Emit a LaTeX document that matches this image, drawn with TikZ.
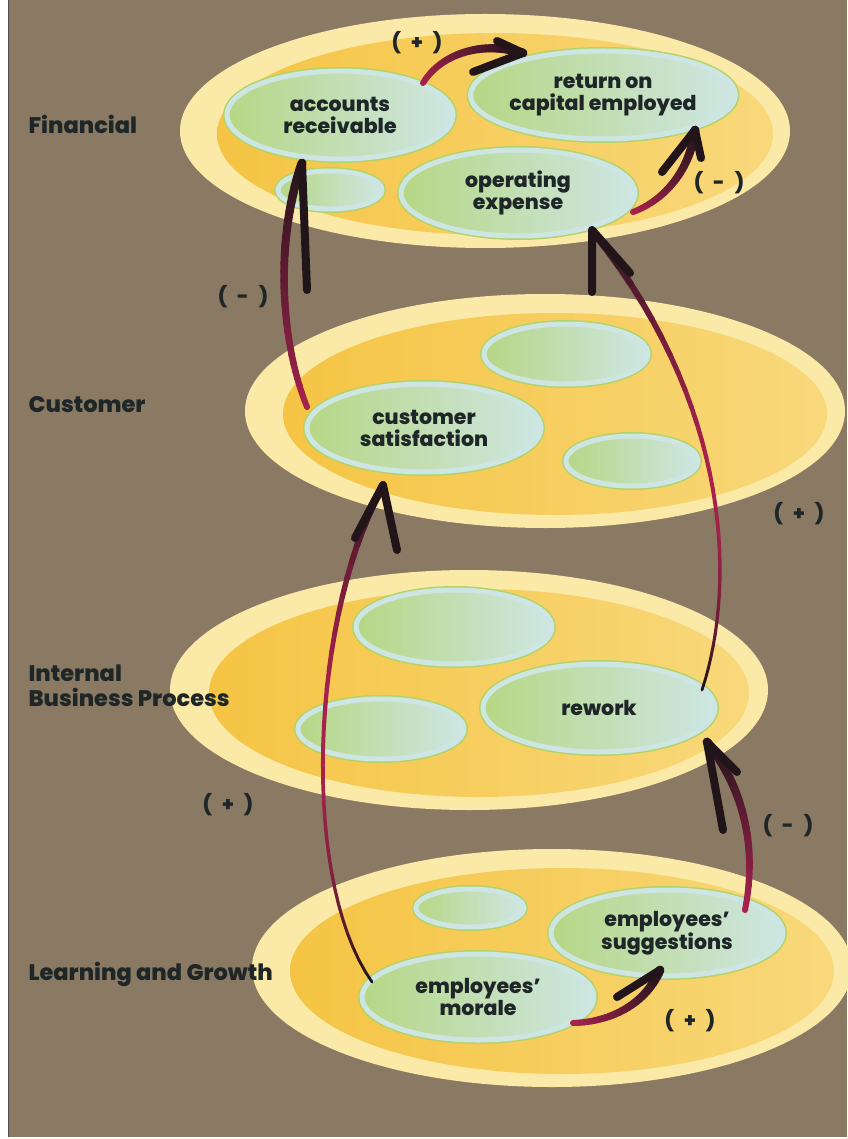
\documentclass[tikz,border=0pt]{standalone}
\usepackage{fontspec}
\setmainfont{Poppins}[BoldFont={* ExtraBold}]
\usetikzlibrary{shapes.geometric,calc}

\definecolor{bgbrown}{HTML}{8A7A64}
\definecolor{cream}{HTML}{FBE9A8}
\definecolor{golden}{HTML}{F5C444}
\definecolor{iceblue}{HTML}{CEE6E3}
\definecolor{leafgreen}{HTML}{B6D785}
\definecolor{rimgreen}{HTML}{B2D36A}
\definecolor{ink}{HTML}{1E2628}
\definecolor{linkred}{HTML}{A8224E}
\definecolor{linkdark}{HTML}{22151A}

% shaded shaft: #1 red share, #2 width (both of \tpos), #3 start, #4 #5 controls, #6 end
\newcommand\shadedlink[6]{%
  \foreach \k [evaluate=\k as \tpos using \k/30] in {0,...,30}
    \path #3 .. controls #4 and #5 .. #6 coordinate[pos=\tpos] (lk\k);
  \foreach \k [evaluate=\k as \tpos using \k/30,
               evaluate=\k as \p using int(#1),
               evaluate=\k as \w using #2,
               evaluate=\k as \j using int(\k+1)] in {0,...,29}
    \draw [linkpart, draw=linkred!\p!linkdark, line width=\w pt] (lk\k) -- (lk\j);
}
% golden inside of a tier
\newcommand\tierglow[3]{%
  \shade [left color=golden, right color=golden!45!cream] ($(#1.center)+(10,3)$) ellipse [x radius=#2, y radius=#3];
}

\begin{document}
\begin{tikzpicture}[
    x=1pt, y=-1pt,
    tier/.style={
		ellipse,
		fill=cream,
		inner sep=0pt
	},
	cell/.style={
		ellipse,
		preaction={draw=rimgreen, line width=8pt},
		draw=iceblue,
		line width=5pt,
		left color=leafgreen,
		right color=iceblue,
		inner sep=0pt,
		align=center,
		text=ink,
		font=\fontsize{20.5}{22}\selectfont\bfseries
	},
	layerlabel/.style={
		anchor=base west,
		align=left,
		text=ink,
		font=\fontsize{22.5}{25}\selectfont\bfseries
	},
	sign/.style={
		text=ink,
		font=\fontsize{20}{20}\selectfont\bfseries
	},
	linkpart/.style={
		line cap=round
	},
	barb/.style={
		draw=linkdark,
		line width=8pt,
		line cap=round
	}
  ]

\useasboundingbox (0,0) rectangle (847,1139);
\fill [white] (0,0) rectangle (847,1139);
\fill [bgbrown] (9,0) rectangle (847,1137);
\draw [black!70, line width=1pt] (8.5,0) -- (8.5,1137);

% // The four tiers
\node [tier, minimum width=610, minimum height=234] (fin) at (485,131) {};
\tierglow{fin}{278}{101}
\node [tier, minimum width=600, minimum height=234] (cus) at (545,411) {};
\tierglow{cus}{272}{101}
\node [tier, minimum width=598, minimum height=240] (ibp) at (469,690) {};
\tierglow{ibp}{270}{104}
\node [tier, minimum width=600, minimum height=238] (lag) at (552,968) {};
\tierglow{lag}{272}{103}

\node [layerlabel] (finlab) at (25,134) {Financial};
\node [layerlabel] (cuslab) at (25,412) {Customer};
\node [layerlabel, anchor=west] (ibplab) at (25,686) {Internal\\Business Process};
\node [layerlabel] (laglab) at (25,980) {Learning and Growth};

% // Financial
\node [cell, minimum width=104, minimum height=38] (finx) at (330,190) {};
\node [cell, minimum width=226, minimum height=88] (acr) at (340,115) {accounts\\receivable};
\node [cell, minimum width=232, minimum height=88] (ret) at (603,95) {return on\\capital employed};
\node [cell, minimum width=234, minimum height=86] (op) at (518,193) {operating\\expense};

% // Customer
\node [cell, minimum width=234, minimum height=88] (sat) at (424,428) {customer\\satisfaction};
\node [cell, minimum width=164, minimum height=60] (cusa) at (566,354) {};
\node [cell, minimum width=132, minimum height=50] (cusb) at (632,461) {};

% // Internal business process
\node [cell, minimum width=196, minimum height=74] (ibpa) at (454,627) {};
\node [cell, minimum width=166, minimum height=60] (ibpb) at (381,729) {};
\node [cell, minimum width=232, minimum height=88] (rew) at (599,708) {rework};

% // Learning and growth
\node [cell, minimum width=108, minimum height=38] (lagx) at (470,908) {};
\node [cell, minimum width=232, minimum height=86] (sug) at (667,933) {employees’\\suggestions};
\node [cell, minimum width=232, minimum height=86] (mor) at (478,997) {employees’\\morale};

% // The links
\shadedlink{100*(1-\tpos)}{6+3*\tpos}{($(acr.center)+(83,-32)$)}{(440,55)}{(480,40)}{($(ret.center)+(-80,-42)$)}
\draw [barb] (lk30) -- ++(-26,-12) (lk30) -- ++(-50,19);

\shadedlink{100*(1-\tpos)}{6+3*\tpos}{($(op.center)+(115,19)$)}{(665,200)}{(690,170)}{($(ret.center)+(92,35)$)}
\draw [barb] (lk30) -- ++(-33,42) (lk30) -- ++(6,28);

\shadedlink{100*(1-\tpos)}{6+3*\tpos}{($(sat.center)+(-117,-21)$)}{(280,340)}{(275,240)}{($(acr.center)+(-38,48)$)}
\draw [barb] (lk30) -- ++(5,127);

\shadedlink{100*sin(180*\tpos)}{2.8+2*\tpos+3*\tpos^4}{($(mor.center)+(-106,-15)$)}{(300,880)}{(310,620)}{($(sat.center)+(-41,57)$)}
\draw [barb] (lk30) -- ++(-28,53) (lk30) -- ++(14,65);

\shadedlink{100*sin(180*\tpos)}{2.8+2*\tpos+3*\tpos^4}{($(rew.center)+(103,-18)$)}{(735,590)}{(735,410)}{($(op.center)+(74,37)$)}
\draw [barb] (lk30) -- ++(0,62) (lk30) -- ++(38,43);

\shadedlink{100*(1-\tpos)}{6+3*\tpos}{($(sug.center)+(78,-23)$)}{(757,850)}{(745,790)}{($(rew.center)+(108,34)$)}
\draw [barb] (lk30) -- ++(16,88) (lk30) -- ++(30,30);

\shadedlink{100*(1-\tpos)}{6+3*\tpos}{($(mor.center)+(95,26)$)}{(610,1022)}{(645,1005)}{($(sug.center)+(-7,37)$)}
\draw [barb] (lk30) -- ++(-43,27);

% // Signs
\node [sign] (s1) at (417,43) {(\enspace+\enspace)};
\node [sign] (s2) at (719,183) {(\enspace-\enspace)};
\node [sign] (s3) at (243,297) {(\enspace-\enspace)};
\node [sign] (s4) at (799,514) {(\enspace+\enspace)};
\node [sign] (s5) at (228,805) {(\enspace+\enspace)};
\node [sign] (s6) at (788,826) {(\enspace-\enspace)};
\node [sign] (s7) at (690,1021) {(\enspace+\enspace)};

\end{tikzpicture}
\end{document}
